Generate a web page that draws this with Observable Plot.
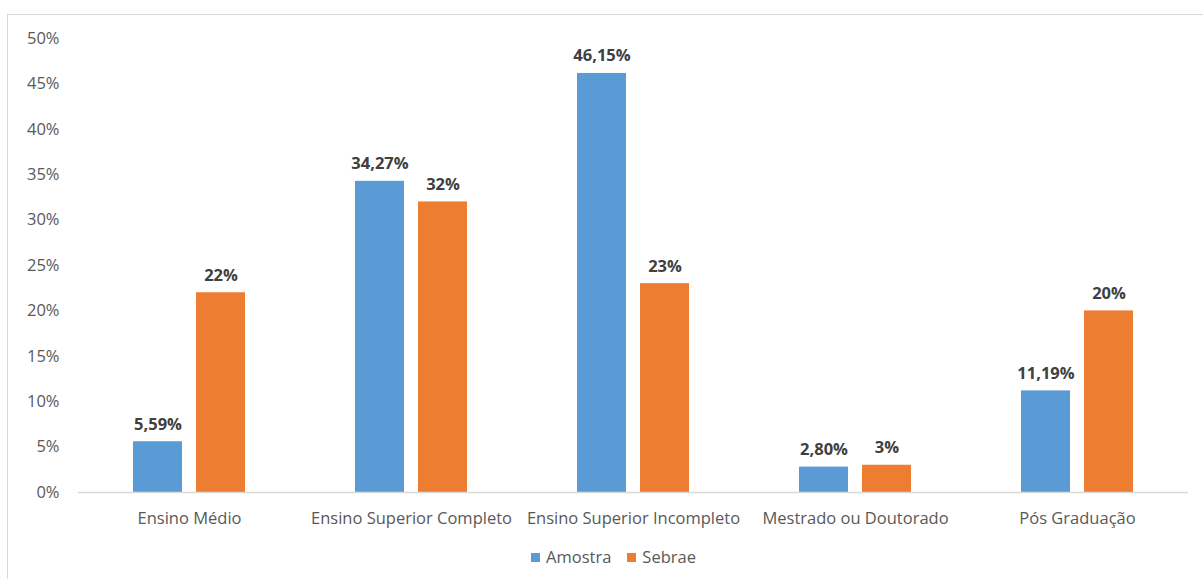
<!DOCTYPE html>
<html>
<head>
<meta charset="utf-8">
<script src="https://cdn.jsdelivr.net/npm/d3@7"></script>
<script src="https://cdn.jsdelivr.net/npm/@observablehq/plot@0.6"></script>
<style>
  html, body { margin: 0; padding: 0; background: #fff; width: 1203px; height: 579px; overflow: hidden; }
  #frame { position: absolute; left: 7px; top: 14px; width: 1210px; height: 600px; border: 1.5px solid #d9d9d9; box-sizing: border-box; }
  #chart { position: absolute; left: 0; top: 0; }
  #legend { position: absolute; left: 12px; width: 1203px; top: 545px; text-align: center; font-family: "Open Sans", sans-serif; font-size: 16.5px; color: #595959; }
  #legend span.item { display: inline-block; margin: 0 8px; }
  #legend span.sw { display: inline-block; width: 9px; height: 9px; margin-right: 6px; vertical-align: 1px; }
</style>
</head>
<body>
<div id="frame"></div>
<div id="chart"></div>
<div id="legend"></div>
<script>
const categories = ["Ensino Médio", "Ensino Superior Completo", "Ensino Superior Incompleto", "Mestrado ou Doutorado", "Pós Graduação"];
const series = ["Amostra", "Sebrae"];
const amostra = [5.59, 34.27, 46.15, 2.80, 11.19];
const sebrae = [22, 32, 23, 3, 20];
const amostraLabels = ["5,59%", "34,27%", "46,15%", "2,80%", "11,19%"];
const sebraeLabels = ["22%", "32%", "23%", "3%", "20%"];
const yTicks = [0, 5, 10, 15, 20, 25, 30, 35, 40, 45, 50];
const colors = ["#5B9BD5", "#ED7D31"];

const data = [];
categories.forEach((c, i) => {
  data.push({cat: c, s: series[0], v: amostra[i], label: amostraLabels[i]});
  data.push({cat: c, s: series[1], v: sebrae[i], label: sebraeLabels[i]});
});

const chart = Plot.plot({
  width: 1203,
  height: 530,
  marginLeft: 77,
  marginRight: 15,
  marginTop: 38,
  marginBottom: 38,
  style: {fontFamily: "'Open Sans', sans-serif", fontSize: "16.5px", color: "#595959", background: "transparent"},
  fx: {domain: categories, paddingInner: 0, paddingOuter: 0, axis: "bottom", label: null, tickSize: 0, tickPadding: 20},
  x: {domain: series, paddingInner: 0.22, paddingOuter: 0.86, axis: null},
  y: {domain: [0, 50], ticks: yTicks, tickFormat: d => d + "%", tickSize: 0, tickPadding: 19, label: null},
  color: {domain: series, range: colors},
  marks: [
    Plot.barY(data, {fx: "cat", x: "s", y: "v", fill: "s"}),
    Plot.ruleY([0], {stroke: "#d9d9d9", strokeWidth: 1.5}),
    Plot.text(data, {fx: "cat", x: "s", y: "v", text: "label", dy: -12, lineAnchor: "bottom", fill: "#404040", fontWeight: "bold", fontSize: 16.5})
  ]
});
document.getElementById("chart").appendChild(chart);

const legend = document.getElementById("legend");
series.forEach((s, i) => {
  const item = document.createElement("span");
  item.className = "item";
  const sw = document.createElement("span");
  sw.className = "sw";
  sw.style.background = colors[i];
  item.appendChild(sw);
  item.appendChild(document.createTextNode(s));
  legend.appendChild(item);
});
</script>
</body>
</html>
